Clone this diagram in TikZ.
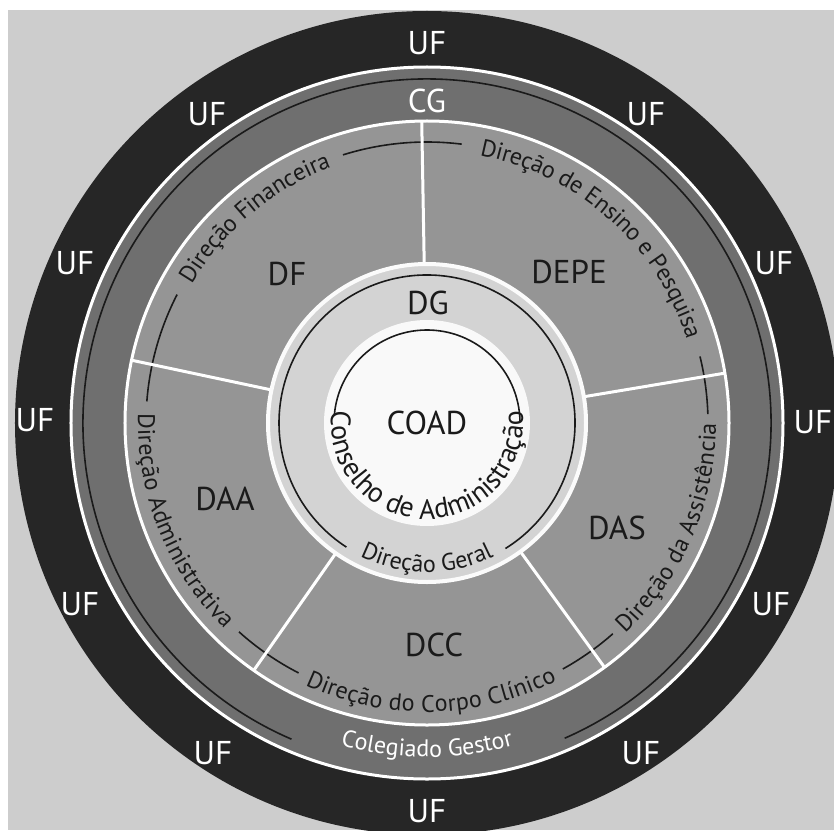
\documentclass[tikz,border=0pt]{standalone}
\usepackage{fontspec}
\setmainfont{PT Sans}
\usepackage{xcolor}
\usepackage{tikz}
\usetikzlibrary{decorations.text}

\definecolor{bggray}{HTML}{CDCDCD}
\definecolor{ufring}{HTML}{262626}
\definecolor{cgring}{HTML}{6F6F6F}
\definecolor{dirring}{HTML}{959595}
\definecolor{dgring}{HTML}{D3D3D3}
\definecolor{coadcore}{HTML}{F9F9F9}
\definecolor{inkline}{HTML}{1A1A1A}

\newcommand{\lblfont}{\fontsize{33}{38}\selectfont}
\newcommand{\arcfont}{\fontsize{24}{28}\selectfont}
\newcommand{\coadfont}{\fontsize{28}{32}\selectfont}

\tikzset{
  uflabel/.style={text=white, font=\lblfont},
  dirlabel/.style={text=inkline, font=\lblfont},
  ringline/.style={inkline, line width=1.6pt},
  divider/.style={white, line width=3pt},
  arctext/.style={decorate, decoration={text along path, text align=center, raise=#1}}
}

\begin{document}
\begin{tikzpicture}
    \useasboundingbox (-427pt,-407pt) rectangle (407pt,423pt);
    \fill[white] (-427pt,-407pt) rectangle (407pt,423pt);
    \fill[bggray] (-419pt,-407pt) rectangle (407pt,413pt);
    \begin{scope}
        \clip (-427pt,-407pt) rectangle (407pt,423pt);
        \fill[ufring] (0,0) circle (412pt);
    \end{scope}

    \draw[white, line width=3pt, fill=cgring] (0,0) circle (356pt);
    \draw[ringline] (293.6:344pt) arc[start angle=293.6, end angle=606.8, radius=344pt];
    \draw[white, line width=3pt, fill=dirring] (0,0) circle (302pt);

    \draw[ringline] (1.8:281pt) arc[start angle=1.8, end angle=13.7, radius=281pt];
    \draw[ringline] (82.9:281pt) arc[start angle=82.9, end angle=107.4, radius=281pt];
    \draw[ringline] (152.8:281pt) arc[start angle=152.8, end angle=175.6, radius=281pt];
    \draw[ringline] (228:281pt) arc[start angle=228, end angle=242.8, radius=281pt];
    \draw[ringline] (298.9:281pt) arc[start angle=298.9, end angle=311.4, radius=281pt];

    \draw[divider] (91:159pt) -- (91:302pt);
    \draw[divider] (168:159pt) -- (168:302pt);
    \draw[divider] (235:159pt) -- (235:302pt);
    \draw[divider] (306:159pt) -- (306:302pt);
    \draw[divider] (9.5:159pt) -- (9.5:302pt);

    \draw[white!92!dgring, line width=4pt, fill=dgring] (0,0) circle (159pt);
    \draw[ringline] (-58:148pt) arc[start angle=-58, end angle=237, radius=148pt];
    \fill[coadcore] (0,0) circle (103pt);
    \draw[ringline] (1:93pt) arc[start angle=1, end angle=175, radius=93pt];

    \path[arctext=-8pt, decoration={text={|\arcfont\color{inkline}|Direção Financeira}}]
        (180:281pt) arc[start angle=180, end angle=80, radius=281pt];
    \path[arctext=-8pt, decoration={text={|\arcfont\color{inkline}|Direção de Ensino e Pesquisa}}]
        (98.3:281pt) arc[start angle=98.3, end angle=-1.7, radius=281pt];
    \path[arctext=-8pt, decoration={text={|\arcfont\color{inkline}|Direção da Assistência}}]
        (-73.4:281pt) arc[start angle=-73.4, end angle=26.6, radius=281pt];
    \path[arctext=-8pt, decoration={text={|\arcfont\color{inkline}|Direção do Corpo Clínico}}]
        (220.9:281pt) arc[start angle=220.9, end angle=320.9, radius=281pt];
    \path[arctext=-8pt, decoration={text={|\arcfont\color{inkline}|Direção Administrativa}}]
        (151.8:281pt) arc[start angle=151.8, end angle=251.8, radius=281pt];
    \path[arctext=-1pt, decoration={text={|\arcfont\color{inkline}|Direção Geral}}]
        (220:148pt) arc[start angle=220, end angle=320, radius=148pt];
    \path[arctext=0pt, decoration={text={|\arcfont\color{white}|Colegiado Gestor}}]
        (220:334pt) arc[start angle=220, end angle=320, radius=334pt];
    \path[arctext=0pt, decoration={text={|\coadfont\color{inkline}|Conselho de Administração}}]
        (150:96pt) arc[start angle=150, end angle=390, radius=96pt];

    \node[uflabel] (uf0) at (0pt,380pt) {UF};
    \node[uflabel] (uf1) at (219pt,309pt) {UF};
    \node[uflabel] (uf2) at (347pt,160pt) {UF};
    \node[uflabel] (uf3) at (386pt,1pt) {UF};
    \node[uflabel] (uf4) at (344pt,-181pt) {UF};
    \node[uflabel] (uf5) at (214pt,-330pt) {UF};
    \node[uflabel] (uf6) at (0pt,-388pt) {UF};
    \node[uflabel] (uf7) at (-214pt,-330pt) {UF};
    \node[uflabel] (uf8) at (-347pt,-181pt) {UF};
    \node[uflabel] (uf9) at (-392pt,3pt) {UF};
    \node[uflabel] (uf10) at (-352pt,160pt) {UF};
    \node[uflabel] (uf11) at (-220pt,309pt) {UF};

    \node[uflabel] (cg) at (0pt,322pt) {CG};
    \node[dirlabel] (df) at (-140pt,149pt) {DF};
    \node[dirlabel] (depe) at (142pt,151pt) {DEPE};
    \node[dirlabel] (daa) at (-202pt,-76pt) {DAA};
    \node[dirlabel] (das) at (190pt,-105pt) {DAS};
    \node[dirlabel] (dcc) at (7pt,-222pt) {DCC};
    \node[dirlabel] (dg) at (1pt,120pt) {DG};
    \node[dirlabel] (coad) at (0pt,0pt) {COAD};
\end{tikzpicture}
\end{document}
